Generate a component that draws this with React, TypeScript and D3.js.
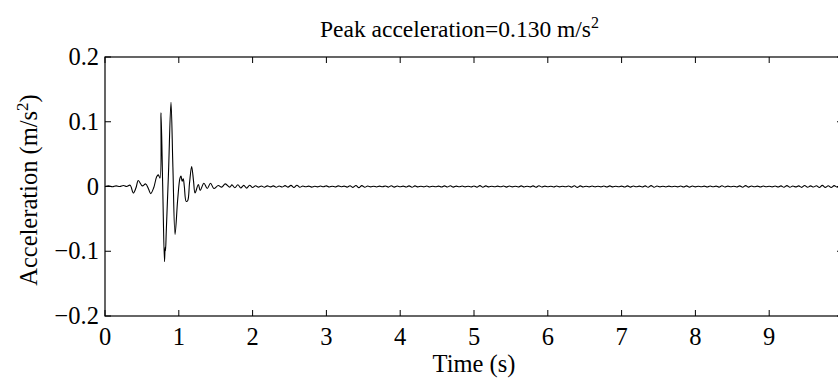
import React from "react";
import * as d3 from "d3";

// main burst: time (s) and acceleration (m/s^2)
const burstTime = [
  0, 0.05, 0.1, 0.15, 0.2, 0.25, 0.294, 0.34, 0.384, 0.42, 0.451, 0.506, 0.551, 0.59,
  0.619, 0.66, 0.7, 0.722, 0.745, 0.759, 0.782, 0.806, 0.815, 0.82, 0.83, 0.86, 0.894,
  0.92, 0.949, 0.985, 1.016, 1.03, 1.045, 1.06, 1.075, 1.1, 1.12, 1.145, 1.174, 1.2,
  1.22, 1.265, 1.29, 1.34, 1.385, 1.43, 1.475, 1.535, 1.58, 1.63, 1.69,
];
const burstAccel = [
  0, 0.001, -0.0005, 0.001, 0, 0.0015, 0, 0.002, -0.01, -0.002, 0.0093, 0.001, 0.004, -0.004,
  -0.011, -0.002, 0.015, 0.018, 0.013, 0.114, 0.0, -0.116, -0.094, -0.099, -0.07, 0.02, 0.13,
  0.03, -0.074, -0.02, 0.013, 0.016, 0.008, 0.012, 0, -0.023, -0.022, 0.005, 0.031, 0.008,
  -0.01, 0.003, -0.006, 0.005, -0.003, 0.005, -0.003, 0.0015, -0.001, 0.004, -0.001,
];

// coda noise after the burst, sampled every 0.04 s from 1.72 s, in mm/s^2
const tailStart = 1.72;
const tailStep = 0.04;
const tailMilli = [
  2.5, -2, 2.8, -2.2, 1.8, -2.5, 2, -1.5, 1.2, -1,
  0.8, -1.2, 1, -0.6, 0.9, -1.1, 0.7, -0.8, 1.3, -1,
  1.8, -1.5, 2, -1.2, 0.8, -0.5, 0.6, -0.9, 0.4, -0.6,
  0.7, -0.5, 1, -0.8, 0.5, -0.7, 0.9, -0.4, 0.6, -0.9,
  1.1, -1.3, 1.6, -1.8, 1.4, -1.2, 0.8, -0.6, 0.5, -0.7,
  0.6, -0.4, 0.8, -0.9, 1.2, -1, 0.7, -0.5, 0.6, -0.8,
  1, -1.2, 0.9, -0.6, 0.4, -0.5, 0.8, -0.7, 0.5, -0.4,
  0.6, -0.8, 0.9, -0.7, 1.1, -0.9, 0.6, -0.5, 0.7, -0.6,
  0.5, -0.7, 0.8, -1, 1.3, -1.1, 0.9, -0.6, 0.4, -0.5,
  0.6, -0.4, 0.7, -0.9, 0.8, -0.6, 0.5, -0.8, 1, -0.7,
  0.5, -0.6, 0.9, -1.1, 1.2, -0.8, 0.6, -0.4, 0.5, -0.7,
  0.8, -0.6, 0.4, -0.5, 0.7, -0.9, 1.1, -1.3, 1, -0.7,
  0.5, -0.6, 0.8, -0.5, 0.4, -0.6, 0.7, -0.8, 0.9, -0.6,
  0.5, -0.4, 0.6, -0.8, 1, -0.9, 0.7, -0.5, 0.6, -0.7,
  0.9, -1.2, 1.4, -1.1, 0.8, -0.6, 0.5, -0.7, 0.6, -0.4,
  0.5, -0.6, 0.8, -0.7, 0.9, -1, 0.8, -0.6, 0.4, -0.5,
  0.6, -0.8, 0.7, -0.5, 0.6, -0.9, 1.1, -0.8, 0.6, -0.4,
  0.5, -0.7, 0.9, -1.1, 1.3, -1, 0.7, -0.5, 0.6, -0.8,
  0.7, -0.5, 0.4, -0.6, 0.8, -0.7, 0.9, -1.2, 1.4, -1.1,
  0.8, -0.6, 0.9, -1.3, 1.6, -1.2, 1, -0.8, 1.2, -1.5,
  1.8, -1.4, 1.1, -1.6, 1.3, -0.9, 0.7, 0.5,
];

const xTicks = [0, 1, 2, 3, 4, 5, 6, 7, 8, 9, 10];
const yTicks = [-0.2, -0.1, 0, 0.1, 0.2];
const peakText = "0.130";

const W = 838;
const H = 383;
const font = "'Liberation Serif', 'Times New Roman', serif";
const fs = 24.5;

export default function App() {
  const x = d3.scaleLinear().domain([0, 10]).range([105, 843]);
  const y = d3.scaleLinear().domain([-0.2, 0.2]).range([316, 57]);

  const points: [number, number][] = burstTime.map((t, i) => [t, burstAccel[i]]);
  tailMilli.forEach((v, i) => points.push([tailStart + i * tailStep, v / 1000]));

  const line = d3.line<[number, number]>()
    .x(d => x(d[0]))
    .y(d => y(d[1]))
    .curve(d3.curveCatmullRom);

  const [x0, x1] = x.range();
  const [y0, y1] = y.range();
  const fmtY = (v: number) => (v === 0 ? "0" : (v < 0 ? "\u2212" : "") + Math.abs(v).toFixed(1));

  return (
    <div style={{ position: "absolute", left: 0, top: 0 }}>
      <svg width={W} height={H} style={{ display: "block", background: "#fff" }}>
        <path d={line(points) ?? ""} fill="none" stroke="#000" strokeWidth={1.1} />

        {/* box, its right side falls just past the window like the reference */}
        <rect x={x0} y={y1} width={x1 - x0} height={y0 - y1} fill="none" stroke="#000" strokeWidth={1.2} />

        {xTicks.map(t => (
          <g key={"x" + t}>
            <line x1={x(t)} x2={x(t)} y1={y0} y2={y0 - 6} stroke="#000" />
            <line x1={x(t)} x2={x(t)} y1={y1} y2={y1 + 6} stroke="#000" />
            {x(t) < W && (
              <text x={x(t)} y={345} textAnchor="middle" fontFamily={font} fontSize={fs}>{t}</text>
            )}
          </g>
        ))}
        {yTicks.map(v => (
          <g key={"y" + v}>
            <line x1={x0} x2={x0 + 6} y1={y(v)} y2={y(v)} stroke="#000" />
            <line x1={x1} x2={x1 - 6} y1={y(v)} y2={y(v)} stroke="#000" />
            <text x={99} y={y(v) + 8} textAnchor="end" fontFamily={font} fontSize={fs}>{fmtY(v)}</text>
          </g>
        ))}

        <text x={320} y={37} fontFamily={font} fontSize={23.5}>
          Peak acceleration={peakText} m/s<tspan dy={-9} fontSize={16}>2</tspan>
        </text>
        <text x={474} y={372} textAnchor="middle" fontFamily={font} fontSize={fs}>Time (s)</text>
        <text transform={`translate(37,190) rotate(-90)`} textAnchor="middle" fontFamily={font} fontSize={fs}>
          Acceleration (m/s<tspan dy={-9} fontSize={17}>2</tspan><tspan dy={9}>)</tspan>
        </text>
      </svg>
    </div>
  );
}
